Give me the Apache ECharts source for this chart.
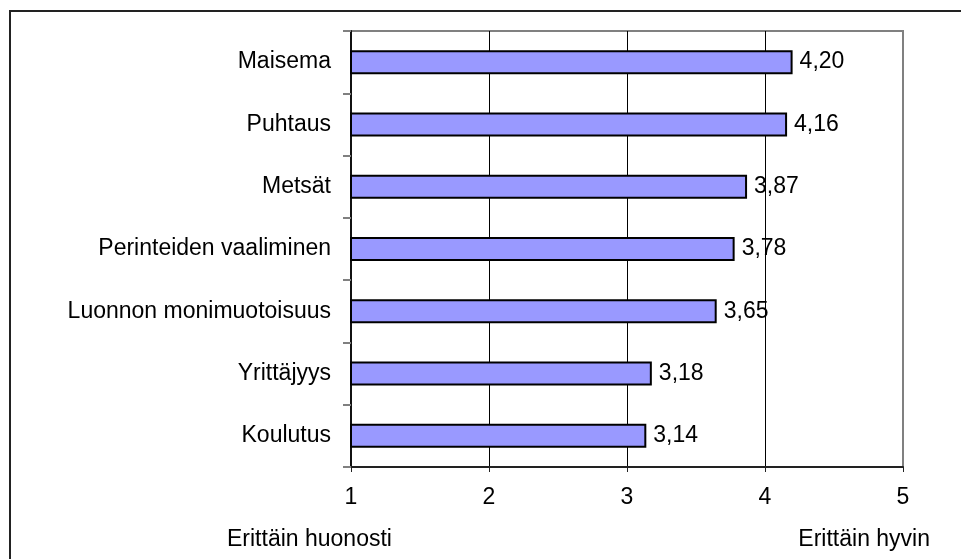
<!DOCTYPE html>
<html>
<head>
<meta charset="utf-8">
<script src="https://cdn.jsdelivr.net/npm/echarts@6/dist/echarts.min.js"></script>
<style>
html, body { margin: 0; padding: 0; background: #fff; }
#chart { width: 961px; height: 559px; }
</style>
</head>
<body>
<div id="chart"></div>
<script>
var categories = ['Maisema', 'Puhtaus', 'Metsät', 'Perinteiden vaaliminen', 'Luonnon monimuotoisuus', 'Yrittäjyys', 'Koulutus'];
var values = [4.20, 4.16, 3.87, 3.78, 3.65, 3.18, 3.14];
var xTicks = [1, 2, 3, 4, 5];
var lowText = 'Erittäin huonosti';
var highText = 'Erittäin hyvin';

var fontName = '"Liberation Sans", Arial, sans-serif';
var fontSize = 23;
var chart = echarts.init(document.getElementById('chart'));

var option = {
	animation : false,
	backgroundColor : '#fff',
	grid : {
		left : 351,
		right : 58,
		top : 31,
		bottom : 92,
		show : true,
		borderColor : '#808080',
		borderWidth : 2,
		backgroundColor : 'transparent'
	},
	xAxis : {
		type : 'value',
		min : xTicks[0],
		max : xTicks[xTicks.length - 1],
		interval : 1,
		axisLine : { show : true, lineStyle : { color : '#222', width : 2 } },
		axisTick : { show : true, length : 5, lineStyle : { color : '#222', width : 1 } },
		axisLabel : { color : '#000', fontSize : fontSize, fontFamily : fontName, margin : 19 },
		splitLine : {
			show : true,
			lineStyle : { color : [ '#000', '#000', '#000', '#000', '#808080' ], width : 1 }
		}
	},
	yAxis : {
		type : 'category',
		inverse : true,
		data : categories,
		axisLine : { show : true, lineStyle : { color : '#111', width : 2 } },
		axisTick : { show : true, length : 8, lineStyle : { color : '#808080', width : 2 } },
		axisLabel : { color : '#000', fontSize : fontSize, fontFamily : fontName, margin : 20 }
	},
	series : [ {
		type : 'bar',
		data : values,
		barWidth : 24,
		itemStyle : { color : '#9999FF', borderColor : '#000', borderWidth : 2 },
		label : {
			show : true,
			position : 'right',
			distance : 7,
			color : '#000',
			fontSize : fontSize,
			fontFamily : fontName,
			formatter : function(p) {
				return p.value.toFixed(2).replace('.', ',');
			}
		}
	} ],
	graphic : [ {
		type : 'rect',
		shape : { x : 10, y : 11, width : 1000, height : 600 },
		style : { fill : 'none', stroke : '#222', lineWidth : 2 },
		silent : true
	}, {
		type : 'text',
		left : 227,
		top : 528,
		style : { text : lowText, fill : '#000', font : fontSize + 'px ' + fontName }
	}, {
		type : 'text',
		right : 31,
		top : 528,
		style : { text : highText, fill : '#000', font : fontSize + 'px ' + fontName }
	} ]
};

chart.setOption(option);
</script>
</body>
</html>
